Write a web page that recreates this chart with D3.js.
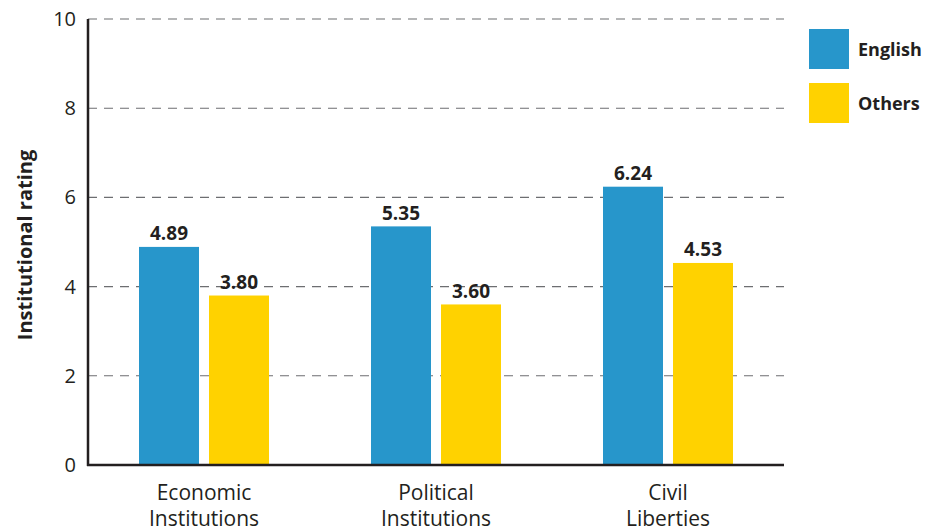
<!DOCTYPE html>
<html><head><meta charset="utf-8">
<script src="https://cdn.jsdelivr.net/npm/d3@7/dist/d3.min.js"></script>
<style>body{margin:0;background:#fff}svg{display:block}text{font-family:"Open Sans",sans-serif;fill:#231f20}</style>
</head><body><div id="chart"></div>
<script>
const categories = [["Economic","Institutions"],["Political","Institutions"],["Civil","Liberties"]];
const seriesNames = ["English","Others"];
const englishValues = [4.89, 5.35, 6.24];
const othersValues = [3.80, 3.60, 4.53];
const yTicks = [0,2,4,6,8,10];
const colors = ["#2796cb","#ffd200"];

const W = 929, H = 531;
const m = {left:88, right:145, top:19, bottom:66};
const iw = W - m.left - m.right, ih = H - m.top - m.bottom;
const svg = d3.select("#chart").append("svg").attr("width",W).attr("height",H);
const g = svg.append("g").attr("transform",`translate(${m.left},${m.top})`);

const y = d3.scaleLinear().domain([0,10]).range([ih,0]);
const x0 = d3.scaleBand().domain(d3.range(categories.length)).range([0,iw]).padding(0);
const groupW = 130;
const x1 = d3.scaleBand().domain(seriesNames).range([(x0.bandwidth()-groupW)/2,(x0.bandwidth()+groupW)/2]).paddingInner(1/7);

// gridlines
g.append("g").selectAll("line").data(yTicks.filter(d=>d>0)).join("line")
  .attr("x1",0).attr("x2",iw).attr("y1",d=>y(d)).attr("y2",d=>y(d))
  .attr("stroke","#6d6e71").attr("stroke-width",1.1).attr("stroke-dasharray","9,7");

// tick labels via axis
const yAxis = g.append("g").call(d3.axisLeft(y).tickValues(yTicks).tickSize(0).tickPadding(12));
yAxis.select(".domain").remove();
yAxis.selectAll("text").style("font-size","20px").attr("fill","#231f20").style("font-family",'"Open Sans",sans-serif');

const data = categories.map((c,i)=>({i, vals:[englishValues[i], othersValues[i]]}));
const grp = g.append("g").selectAll("g").data(data).join("g").attr("transform",d=>`translate(${x0(d.i)},0)`);
grp.selectAll("rect").data(d=>d.vals.map((v,k)=>({k,v}))).join("rect")
  .attr("x",d=>x1(seriesNames[d.k])).attr("width",x1.bandwidth())
  .attr("y",d=>y(d.v)).attr("height",d=>ih-y(d.v)).attr("fill",d=>colors[d.k]);
grp.selectAll("text.val").data(d=>d.vals.map((v,k)=>({k,v}))).join("text").attr("class","val")
  .attr("x",d=>x1(seriesNames[d.k])+x1.bandwidth()/2).attr("y",d=>y(d.v)-6.5)
  .attr("text-anchor","middle").style("font-size","19px").style("font-weight","700")
  .text(d=>d.v.toFixed(2));

// axes lines
g.append("line").attr("x1",0).attr("x2",0).attr("y1",0).attr("y2",ih+1).attr("stroke","#231f20").attr("stroke-width",2.5);
g.append("line").attr("x1",-1).attr("x2",iw).attr("y1",ih).attr("y2",ih).attr("stroke","#231f20").attr("stroke-width",2.5);

// category labels
const cl = g.append("g").selectAll("text").data(categories).join("text")
  .attr("text-anchor","middle").style("font-size","21px")
  .attr("transform",(d,i)=>`translate(${x0(i)+x0.bandwidth()/2},${ih+35})`);
cl.selectAll("tspan").data(d=>d).join("tspan").attr("x",0).attr("dy",(d,j)=>j?26:0).text(d=>d);

// y title
svg.append("text").attr("transform",`translate(32,245) rotate(-90)`)
  .attr("text-anchor","middle").style("font-size","20px").style("font-weight","700").text("Institutional rating");

// legend
const lg = svg.append("g").attr("transform","translate(809,29)");
const li = lg.selectAll("g").data(seriesNames).join("g").attr("transform",(d,i)=>`translate(0,${i*54})`);
li.append("rect").attr("width",40).attr("height",40).attr("fill",(d,i)=>colors[i]);
li.append("text").attr("x",49).attr("y",27).style("font-size","18px").style("font-weight","700").text(d=>d);
</script></body></html>
